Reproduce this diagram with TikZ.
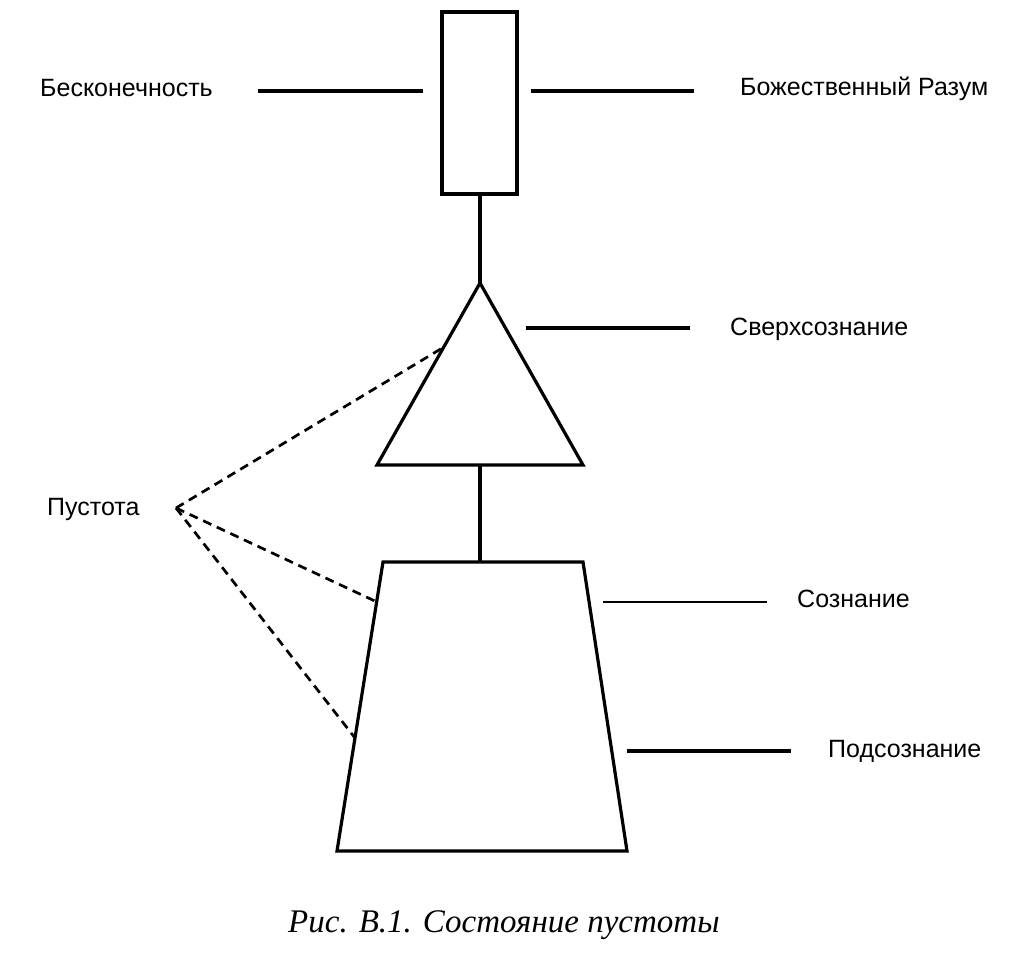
\documentclass[tikz,border=0pt]{standalone}
\usepackage{fontspec}
\setmainfont{Liberation Sans}
\newfontfamily\capfont{Liberation Serif}
\begin{document}
\begin{tikzpicture}[x=1pt,y=-1pt,
  shape line/.style={line width=3.2pt,line join=miter},
  lead/.style={line width=3.1pt},
  thinlead/.style={line width=2.3pt},
  voidline/.style={line width=2.7pt,dash pattern=on 9pt off 6pt},
  lbl/.style={anchor=base west,inner sep=0pt,font=\fontsize{25}{30}\selectfont},
  captext/.style={anchor=base west,inner sep=0pt,font=\capfont\itshape\fontsize{33}{40}\selectfont}]
\useasboundingbox[fill=white] (0,0) rectangle (1027,978);
% shapes
\coordinate (rtl) at (442,12);
\coordinate (rbr) at (517,194);
\coordinate (rb) at (480,194);
\coordinate (ta) at (480,283);
\coordinate (tl) at (377,465);
\coordinate (tr) at (583,465);
\coordinate (tb) at (480,465);
\coordinate (pt) at (480,562);
\coordinate (ptl) at (383,562);
\coordinate (ptr) at (583,562);
\coordinate (pbr) at (627,851);
\coordinate (pbl) at (337,851);
\draw[shape line] (rtl) rectangle (rbr);
\draw[shape line] (ta) -- (tr) -- (tl) -- cycle;
\draw[shape line] (ptl) -- (ptr) -- (pbr) -- (pbl) -- cycle;
\draw[shape line] (rb) -- (ta);
\draw[shape line] (tb) -- (pt);
% labels
\node[lbl] (inf) at (40,96) {Бесконечность};
\node[lbl] (mind) at (740,95) {Божественный Разум};
\node[lbl] (super) at (730,335) {Сверхсознание};
\node[lbl] (void) at (47,515) {Пустота};
\node[lbl] (cons) at (797,607) {Сознание};
\node[lbl] (sub) at (828,757) {Подсознание};
\node[captext] (caption) at (288,932) {Рис. В.1. Состояние пустоты};
% leader lines
\coordinate (l1a) at (258,91); \coordinate (l1b) at (423,91);
\coordinate (l2a) at (531,91); \coordinate (l2b) at (694,91);
\coordinate (l3a) at (526,328); \coordinate (l3b) at (690,328);
\coordinate (l4a) at (603,602); \coordinate (l4b) at (767,602);
\coordinate (l5a) at (627,751); \coordinate (l5b) at (791,751);
\draw[lead] (l1a) -- (l1b);
\draw[lead] (l2a) -- (l2b);
\draw[lead] (l3a) -- (l3b);
\draw[thinlead] (l4a) -- (l4b);
\draw[lead] (l5a) -- (l5b);
% void dashed lines
\coordinate (vp) at (176,508);
\coordinate (v1) at (444,347);
\coordinate (v2) at (377,602);
\coordinate (v3) at (355,738);
\draw[voidline] (vp) -- (v1);
\draw[voidline] (vp) -- (v2);
\draw[voidline] (vp) -- (v3);
\end{tikzpicture}
\end{document}
